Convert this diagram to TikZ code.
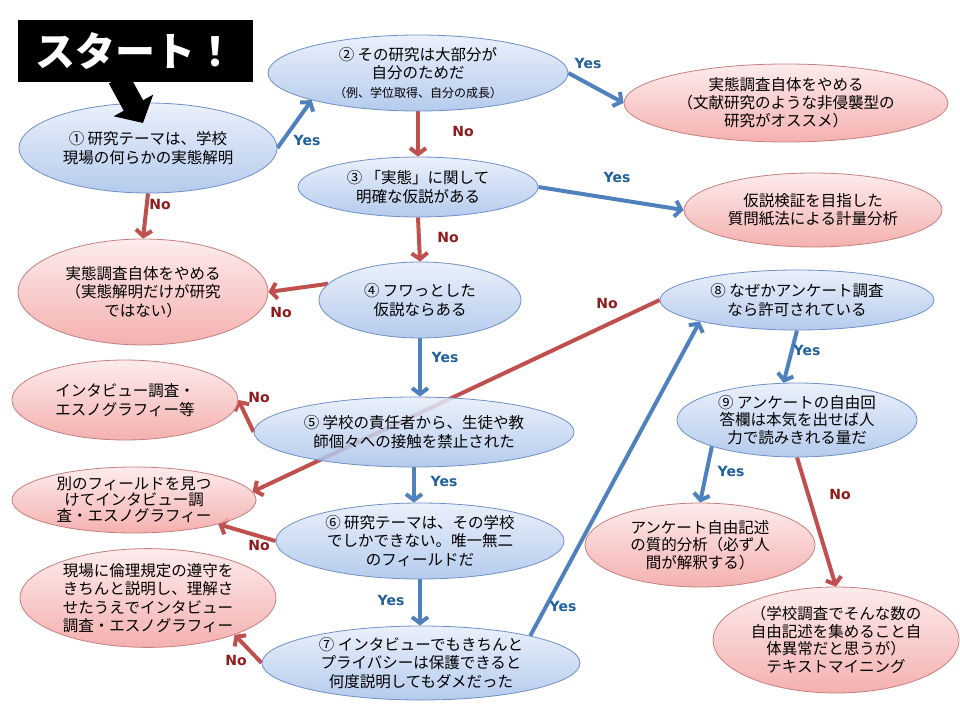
\documentclass[tikz,border=0pt]{standalone}
\usepackage{fontspec}
\setmainfont{Noto Sans CJK JP}
\newfontfamily\yesnofont{DejaVu Sans}
\usetikzlibrary{positioning,arrows.meta,shapes.geometric,backgrounds}
\definecolor{qline}{HTML}{6F8FC6}
\definecolor{qtop}{HTML}{E6EEFA}
\definecolor{qbot}{HTML}{A8C2EA}
\definecolor{rline}{HTML}{C47F7E}
\definecolor{rtop}{HTML}{FDE8E8}
\definecolor{rbot}{HTML}{F2A3A2}
\definecolor{yarrow}{HTML}{4F81BD}
\definecolor{narrow}{HTML}{C0504D}
\definecolor{yesink}{HTML}{1F5F9B}
\definecolor{noink}{HTML}{8E1B1B}

\begin{document}
\begin{tikzpicture}[
    x=1pt, y=-1pt, font=\fontsize{15.5}{18.5}\selectfont,
    qbox/.style={ellipse, draw=qline, line width=0.8pt, top color=qtop, bottom color=qbot,
                 fill opacity=0.85, text opacity=1, align=center, inner sep=0pt},
    rbox/.style={qbox, draw=rline, top color=rtop, bottom color=rbot},
    yarr/.style={-{Straight Barb[length=6pt,width=16pt]}, line width=4pt, draw=yarrow},
    narr/.style={yarr, draw=narrow},
    ylbl/.style={font=\yesnofont\bfseries\fontsize{14}{14}\selectfont, text=yesink, inner sep=0pt},
    nlbl/.style={ylbl, text=noink},
    bigarr/.style={-{Triangle[length=20pt,width=44pt]}, line width=22pt, draw=black},
  ]
  \useasboundingbox (0,0) rectangle (960,720);

  % ---- questions, down the middle and on the right
  \node[qbox, minimum width=258, minimum height=90] (q1) at (148,148) {① 研究テーマは、学校\\現場の何らかの実態解明};
  \node[qbox, minimum width=300, minimum height=76] (q2) at (418,73)
        {② その研究は大部分が\\自分のためだ\\{\fontsize{12}{14}\selectfont（例、学位取得、自分の成長）}};
  \node[qbox, minimum width=240, minimum height=60] (q3) at (418,187) {③ 「実態」に関して\\明確な仮説がある};
  \node[qbox, minimum width=202, minimum height=76] (q4) at (420,300) {④ フワっとした\\仮説ならある};
  \node[qbox, minimum width=320, minimum height=70] (q5) at (414,432) {⑤ 学校の責任者から、生徒や教\\師個々への接触を禁止された};
  \node[qbox, minimum width=288, minimum height=76] (q6) at (420,541)
        {⑥ 研究テーマは、その学校\\でしかできない。唯一無二\\のフィールドだ};
  \node[qbox, minimum width=318, minimum height=74] (q7) at (421,663)
        {⑦ インタビューでもきちんと\\プライバシーは保護できると\\何度説明してもダメだった};
  \node[qbox, minimum width=274, minimum height=60] (q8) at (797,300) {⑧ なぜかアンケート調査\\なら許可されている};
  \node[qbox, minimum width=240, minimum height=74, font=\fontsize{15.5}{17.5}\selectfont] (q9) at (797,420)
        {⑨ アンケートの自由回\\答欄は本気を出せば人\\力で読みきれる量だ};

  % ---- outcomes
  \node[rbox, minimum width=324, minimum height=78, font=\fontsize{15.5}{18}\selectfont] (stopA) at (786,103)
        {実態調査自体をやめる\\（文献研究のような非侵襲型の\\研究がオススメ）};
  \node[rbox, minimum width=258, minimum height=74] (hypo) at (813,210) {仮説検証を目指した\\質問紙法による計量分析};
  \node[rbox, minimum width=250, minimum height=106] (stopB) at (143,292)
        {実態調査自体をやめる\\（実態解明だけが研究\\ではない）};
  \node[rbox, minimum width=226, minimum height=80] (inter) at (125,400) {インタビュー調査・\\エスノグラフィー等};
  \node[rbox, minimum width=244, minimum height=66, font=\fontsize{15.5}{16}\selectfont] (field) at (134,500)
        {別のフィールドを見つ\\けてインタビュー調\\査・エスノグラフィー};
  \node[rbox, minimum width=256, minimum height=98] (ethics) at (148,598)
        {現場に倫理規定の遵守を\\きちんと説明し、理解さ\\せたうえでインタビュー\\調査・エスノグラフィー};
  \node[rbox, minimum width=230, minimum height=84, font=\fontsize{15.5}{17.5}\selectfont] (qual) at (700,545)
        {アンケート自由記述\\の質的分析（必ず人\\間が解釈する）};
  \node[rbox, minimum width=246, minimum height=106, font=\fontsize{15.5}{17.5}\selectfont] (text) at (836,640)
        {（学校調査でそんな数の\\自由記述を集めること自\\体異常だと思うが）\\テキストマイニング};

  % ---- start
  \node[fill=black, minimum width=235, minimum height=62, text=white,
        font=\fontsize{40}{40}\selectfont\bfseries] (start) at (135.5,51) {スタート！};
  \coordinate (startfoot) at ([xshift=-17pt,yshift=4pt]start.south);
  \coordinate (starttip) at (143,123);
  \draw[bigarr] (startfoot) -- (starttip);

  % ---- connectors, behind the ellipses
  \begin{scope}[on background layer]
    \draw[yarr] (q1.east) -- (q2.south west);
    \draw[yarr] (q2.east) -- (stopA.west);
    \draw[narr] (q2.south) -- (q3.north);
    \draw[yarr] (q3.east) -- (hypo.west);
    \draw[narr] (q3.south) -- (q4.north);
    \draw[narr] (q1.south) -- (stopB.north);
    \draw[narr] (q4.170) -- (stopB.east);
    \draw[yarr] (q4.south) -- (q4.south |- q5.north);
    \draw[narr] (q5.west) -- (inter.east);
    \draw[yarr] (q5.south) -- (q5.south |- q6.north);
    \draw[narr] (q8.west) -- (field.4);
    \draw[narr] (q6.west) -- (field.344);
    \draw[yarr] (q6.south) -- (q6.south |- q7.north);
    \draw[narr] (q7.west) -- (ethics.337);
    \draw[yarr] (q7.14) -- (q8.south west);
    \draw[yarr] (q8.south) -- (q9.110);
    \draw[yarr] (q9.south west) -- (qual.north);
    \draw[narr] (q9.south) -- (text.north);
  \end{scope}

  % ---- answers on the connectors
  \node[ylbl] (y12) at (307,140) {Yes};
  \node[ylbl] (y2a) at (588,63) {Yes};
  \node[nlbl] (n23) at (463,131) {No};
  \node[ylbl] (y3h) at (617,177) {Yes};
  \node[nlbl] (n34) at (448,237) {No};
  \node[nlbl] (n1b) at (160,204) {No};
  \node[nlbl] (n4b) at (281,312) {No};
  \node[ylbl] (y45) at (445,357) {Yes};
  \node[nlbl] (n5i) at (259,397) {No};
  \node[ylbl] (y56) at (444,481) {Yes};
  \node[nlbl] (n8f) at (607,303) {No};
  \node[nlbl] (n6f) at (259,545) {No};
  \node[ylbl] (y67) at (391,600) {Yes};
  \node[nlbl] (n7e) at (236,660) {No};
  \node[ylbl] (y78) at (563,606) {Yes};
  \node[ylbl] (y89) at (807,350) {Yes};
  \node[ylbl] (y9q) at (731,471) {Yes};
  \node[nlbl] (n9t) at (840,494) {No};
\end{tikzpicture}
\end{document}
